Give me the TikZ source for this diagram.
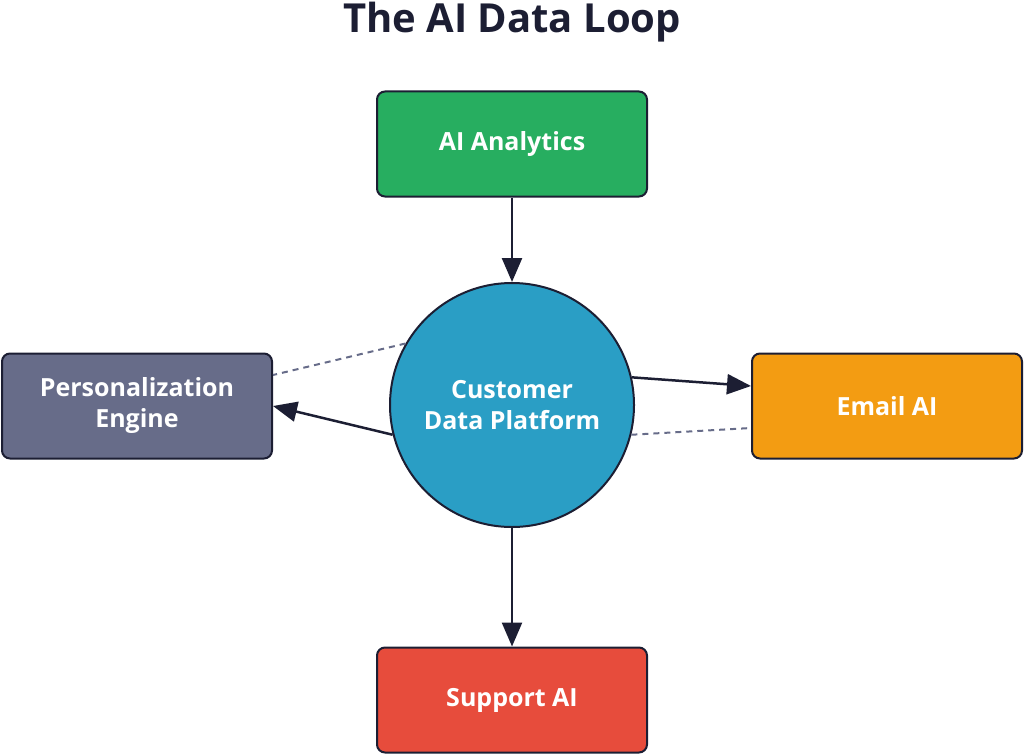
\documentclass[tikz,border=0pt]{standalone}
\usepackage{fontspec}
\setmainfont{Open Sans}
\usetikzlibrary{arrows.meta,calc}
\definecolor{ink}{HTML}{1C1E33}
\definecolor{cgreen}{HTML}{27AE60}
\definecolor{cblue}{HTML}{2A9EC5}
\definecolor{cslate}{HTML}{676C89}
\definecolor{corange}{HTML}{F39C12}
\definecolor{cred}{HTML}{E74C3C}
\begin{document}
\begin{tikzpicture}[
      x=1pt, y=-1pt,
      box/.style={draw=ink, line width=2pt, rounded corners=8pt, minimum width=270pt,
                  minimum height=105pt, text=white, font=\bfseries\fontsize{25}{31}\selectfont, align=center},
      hub/.style={circle, draw=ink, line width=2pt, fill=cblue, minimum size=244pt,
                  text=white, font=\bfseries\fontsize{25}{31}\selectfont, align=center},
      flow/.style={draw=ink, line width=2.5pt, -{Triangle[length=24pt,width=20pt]}},
      link/.style={draw=cslate, line width=2pt, dashed, dash pattern=on 6pt off 5pt}
    ]
    \useasboundingbox (0,0) rectangle (1024,754);
    %title
    \node[font=\bfseries\fontsize{40}{48}\selectfont, text=ink] (title) at (512,22) {The AI Data Loop};
    %the hub and the four tools
    \node[hub] (cdp) at (512,405) {Customer\\Data Platform};
    \node[box, fill=cgreen] (analytics) at (512,144) {AI Analytics};
    \node[box, fill=cslate] (pers) at (137,406) {Personalization\\Engine};
    \node[box, fill=corange] (email) at (887,406) {Email AI};
    \node[box, fill=cred] (support) at (512,700) {Support AI};
    %flows
    \draw[flow] (analytics) -- (cdp);
    \draw[flow] (cdp) -- (support);
    \draw[flow] (cdp.13) -- ($(email.west)+(0,-20)$);
    \draw[flow] (cdp.194) -- ($(pers.east)+(0,0)$);
    %loose links
    \draw[link] (cdp.150) -- ($(pers.east)+(0,-31)$);
    \draw[link] (cdp.-14) -- ($(email.west)+(0,22)$);
\end{tikzpicture}
\end{document}
